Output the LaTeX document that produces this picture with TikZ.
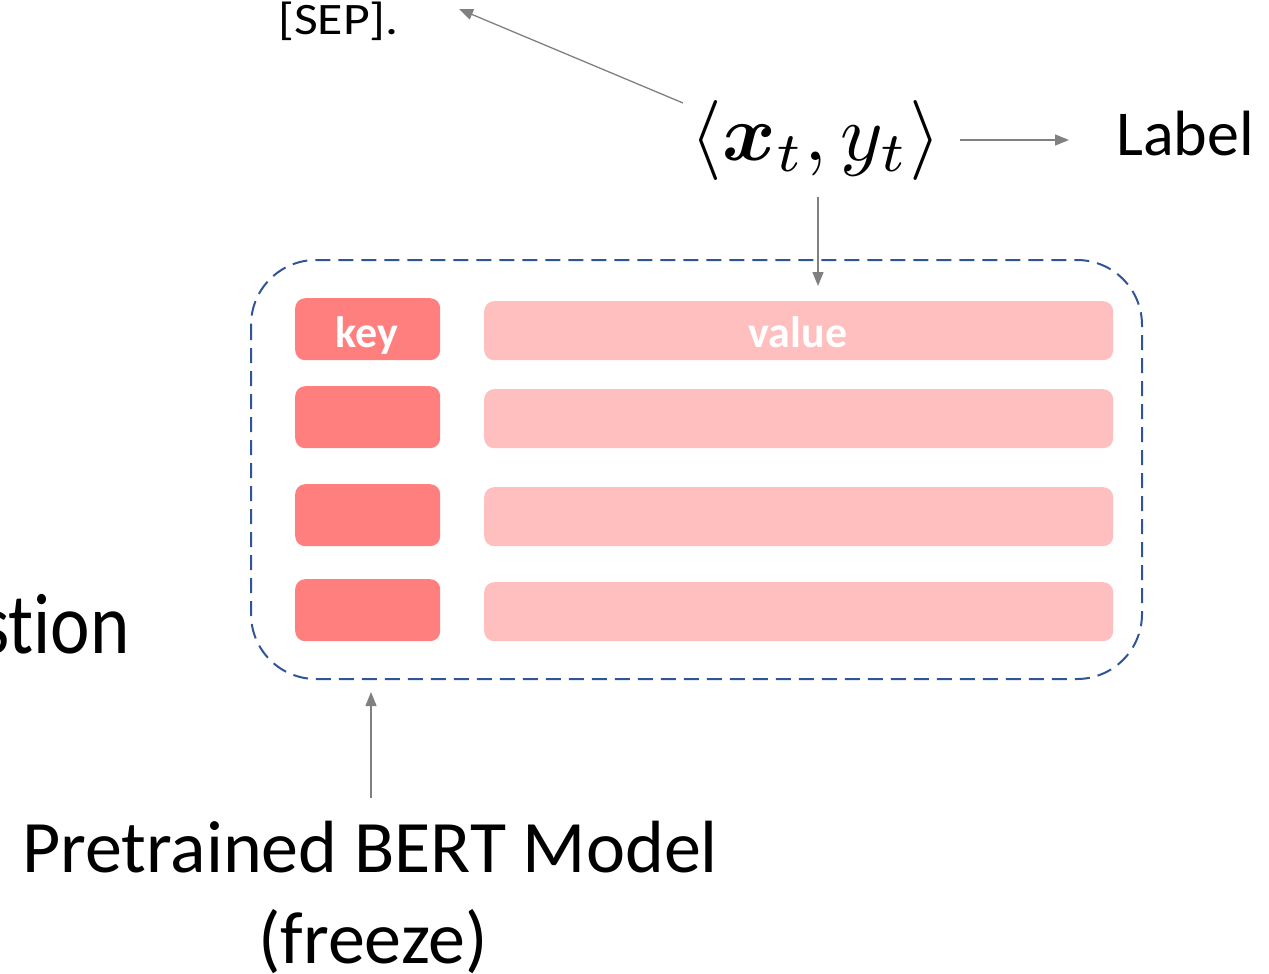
\documentclass[tikz,border=0pt]{standalone}
\usepackage{amsmath,bm,graphicx}
\usepackage{fontspec}
\setmainfont{Carlito}
\usetikzlibrary{arrows.meta}
\definecolor{keyred}{RGB}{255,127,127}
\definecolor{valpink}{RGB}{255,191,191}
\definecolor{dashblue}{RGB}{47,85,151}
\definecolor{arrgray}{RGB}{128,128,128}
\tikzset{
  arr/.style={draw=arrgray, line width=1.3pt, -{Triangle[length=14pt,width=11pt]}},
  keybox/.style={fill=keyred, rounded corners=10pt, inner sep=0pt, minimum width=145pt, minimum height=62pt, anchor=north west},
  valbox/.style={fill=valpink, rounded corners=10pt, inner sep=0pt, minimum width=629pt, minimum height=59pt, anchor=north west},
  boxtxt/.style={text=white, font=\fontsize{44}{50}\selectfont\bfseries, anchor=base, inner sep=0pt},
  plain/.style={inner sep=0pt, text=black}
}
\begin{document}
\begin{tikzpicture}[x=1pt,y=-1pt]
\useasboundingbox (0,0) rectangle (1269,974);
% memory frame
\draw[dashblue, line width=2pt, dash pattern=on 15pt off 8pt, rounded corners=65pt] (251,260) rectangle (1142,679);
% key / value rows
\node[keybox] (k1) at (295,298) {};
\node[keybox] (k2) at (295,386) {};
\node[keybox] (k3) at (295,484) {};
\node[keybox] (k4) at (295,579) {};
\node[valbox] (v1) at (484,301) {};
\node[valbox] (v2) at (484,389) {};
\node[valbox] (v3) at (484,487) {};
\node[valbox] (v4) at (484,582) {};
\node[boxtxt] (kt) at (367,347) {key};
\node[boxtxt] (vt) at (798,347) {value};
% texts
\node[plain, anchor=base west, font=\fontsize{45}{50}\selectfont] (sep) at (278,35) {\scalebox{1.15}[1]{[SEP].}};
\node[plain] (pair) at (816,140) {\resizebox*{250pt}{80pt}{$\langle \bm{x}_t, y_t\rangle$}};
\node[plain, anchor=base west, font=\fontsize{64}{70}\selectfont] (lab) at (1116,155) {Label};
\node[plain, anchor=base west, font=\fontsize{86}{90}\selectfont] (q) at (-20,653) {\scalebox{0.87}[1]{st\kern0pt ion}};
\node[plain, anchor=base, font=\fontsize{74}{80}\selectfont] (bert) at (370,872) {Pretrained BERT Model};
\node[plain, anchor=base, font=\fontsize{74}{80}\selectfont] (frz) at (373,963) {(freeze)};
% connectors
\coordinate (s1) at (683,103);
\coordinate (e1) at (459,9);
\coordinate (s2) at (960,140);
\coordinate (e2) at (1069,140);
\coordinate (s3) at (818,197);
\coordinate (e3) at (818,286);
\coordinate (s4) at (371,798);
\coordinate (e4) at (371,692);
\draw[arr] (s1) -- (e1);
\draw[arr] (s2) -- (e2);
\draw[arr] (s3) -- (e3);
\draw[arr] (s4) -- (e4);
\end{tikzpicture}
\end{document}
